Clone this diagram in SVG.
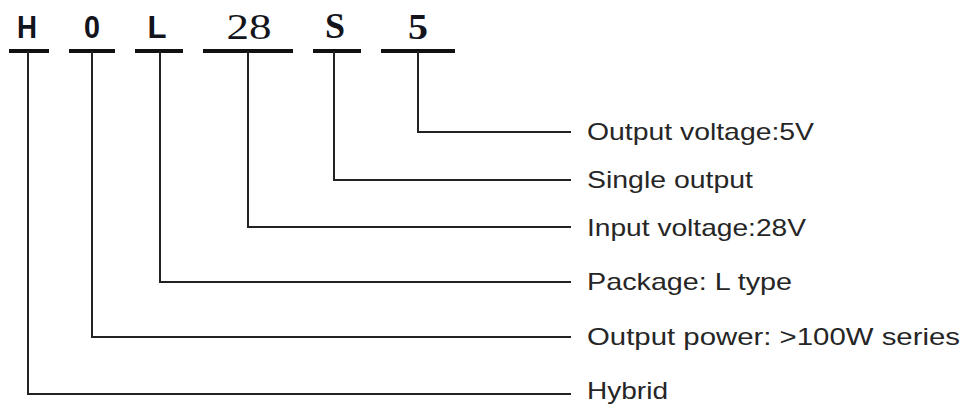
<svg xmlns="http://www.w3.org/2000/svg" width="966" height="405" viewBox="0 0 966 405">
<style>
.code{font-family:"Liberation Sans",Arial,sans-serif;font-weight:bold;font-size:31px;fill:#14141c;text-anchor:middle}
.serif{font-family:"Liberation Serif","Times New Roman",serif;font-size:35px;fill:#14141c;text-anchor:middle}
.ul{stroke:#111;stroke-width:4;fill:none}
.lbl{font-family:"Liberation Sans",Arial,sans-serif;font-size:24px;fill:#262626}
.conn{stroke:#222;stroke-width:2;fill:none}
</style>
<rect width="966" height="405" fill="#ffffff"/>
<g id="seg-H"><text class="code" x="27" y="38" textLength="20" lengthAdjust="spacingAndGlyphs">H</text><line class="ul" x1="9" y1="51" x2="49" y2="51"/></g>
<g id="seg-0"><text class="code" x="92" y="38" textLength="16" lengthAdjust="spacingAndGlyphs">0</text><line class="ul" x1="69" y1="51" x2="115" y2="51"/></g>
<g id="seg-L"><text class="code" x="157" y="38" textLength="19" lengthAdjust="spacingAndGlyphs">L</text><line class="ul" x1="135" y1="51" x2="183" y2="51"/></g>
<g id="seg-28"><text class="serif" x="249" y="39" textLength="45" lengthAdjust="spacingAndGlyphs">28</text><line class="ul" x1="203" y1="51" x2="293" y2="51"/></g>
<g id="seg-S"><text class="serif" x="335" y="38" font-weight="bold" textLength="20" lengthAdjust="spacingAndGlyphs">S</text><line class="ul" x1="313" y1="51" x2="361" y2="51"/></g>
<g id="seg-5"><text class="serif" x="418" y="39" font-weight="bold" textLength="20" lengthAdjust="spacingAndGlyphs">5</text><line class="ul" x1="381" y1="51" x2="455" y2="51"/></g>
<g id="connectors">
<path class="conn" d="M418,51 V132 H571"/>
<path class="conn" d="M334,51 V180 H571"/>
<path class="conn" d="M248,51 V227 H571"/>
<path class="conn" d="M160,51 V282 H571"/>
<path class="conn" d="M92,51 V337 H571"/>
<path class="conn" d="M28,51 V394 H571"/>
</g>
<g id="lbl-output-voltage"><text class="lbl" x="587" y="140" textLength="227" lengthAdjust="spacingAndGlyphs">Output voltage:5V</text></g>
<g id="lbl-single-output"><text class="lbl" x="587" y="188" textLength="166" lengthAdjust="spacingAndGlyphs">Single output</text></g>
<g id="lbl-input-voltage"><text class="lbl" x="587" y="236" textLength="219" lengthAdjust="spacingAndGlyphs">Input voltage:28V</text></g>
<g id="lbl-package"><text class="lbl" x="587" y="290" textLength="205" lengthAdjust="spacingAndGlyphs">Package: L type</text></g>
<g id="lbl-output-power"><text class="lbl" x="587" y="345" textLength="373" lengthAdjust="spacingAndGlyphs">Output power: &gt;100W series</text></g>
<g id="lbl-hybrid"><text class="lbl" x="587" y="399" textLength="81" lengthAdjust="spacingAndGlyphs">Hybrid</text></g>
</svg>
